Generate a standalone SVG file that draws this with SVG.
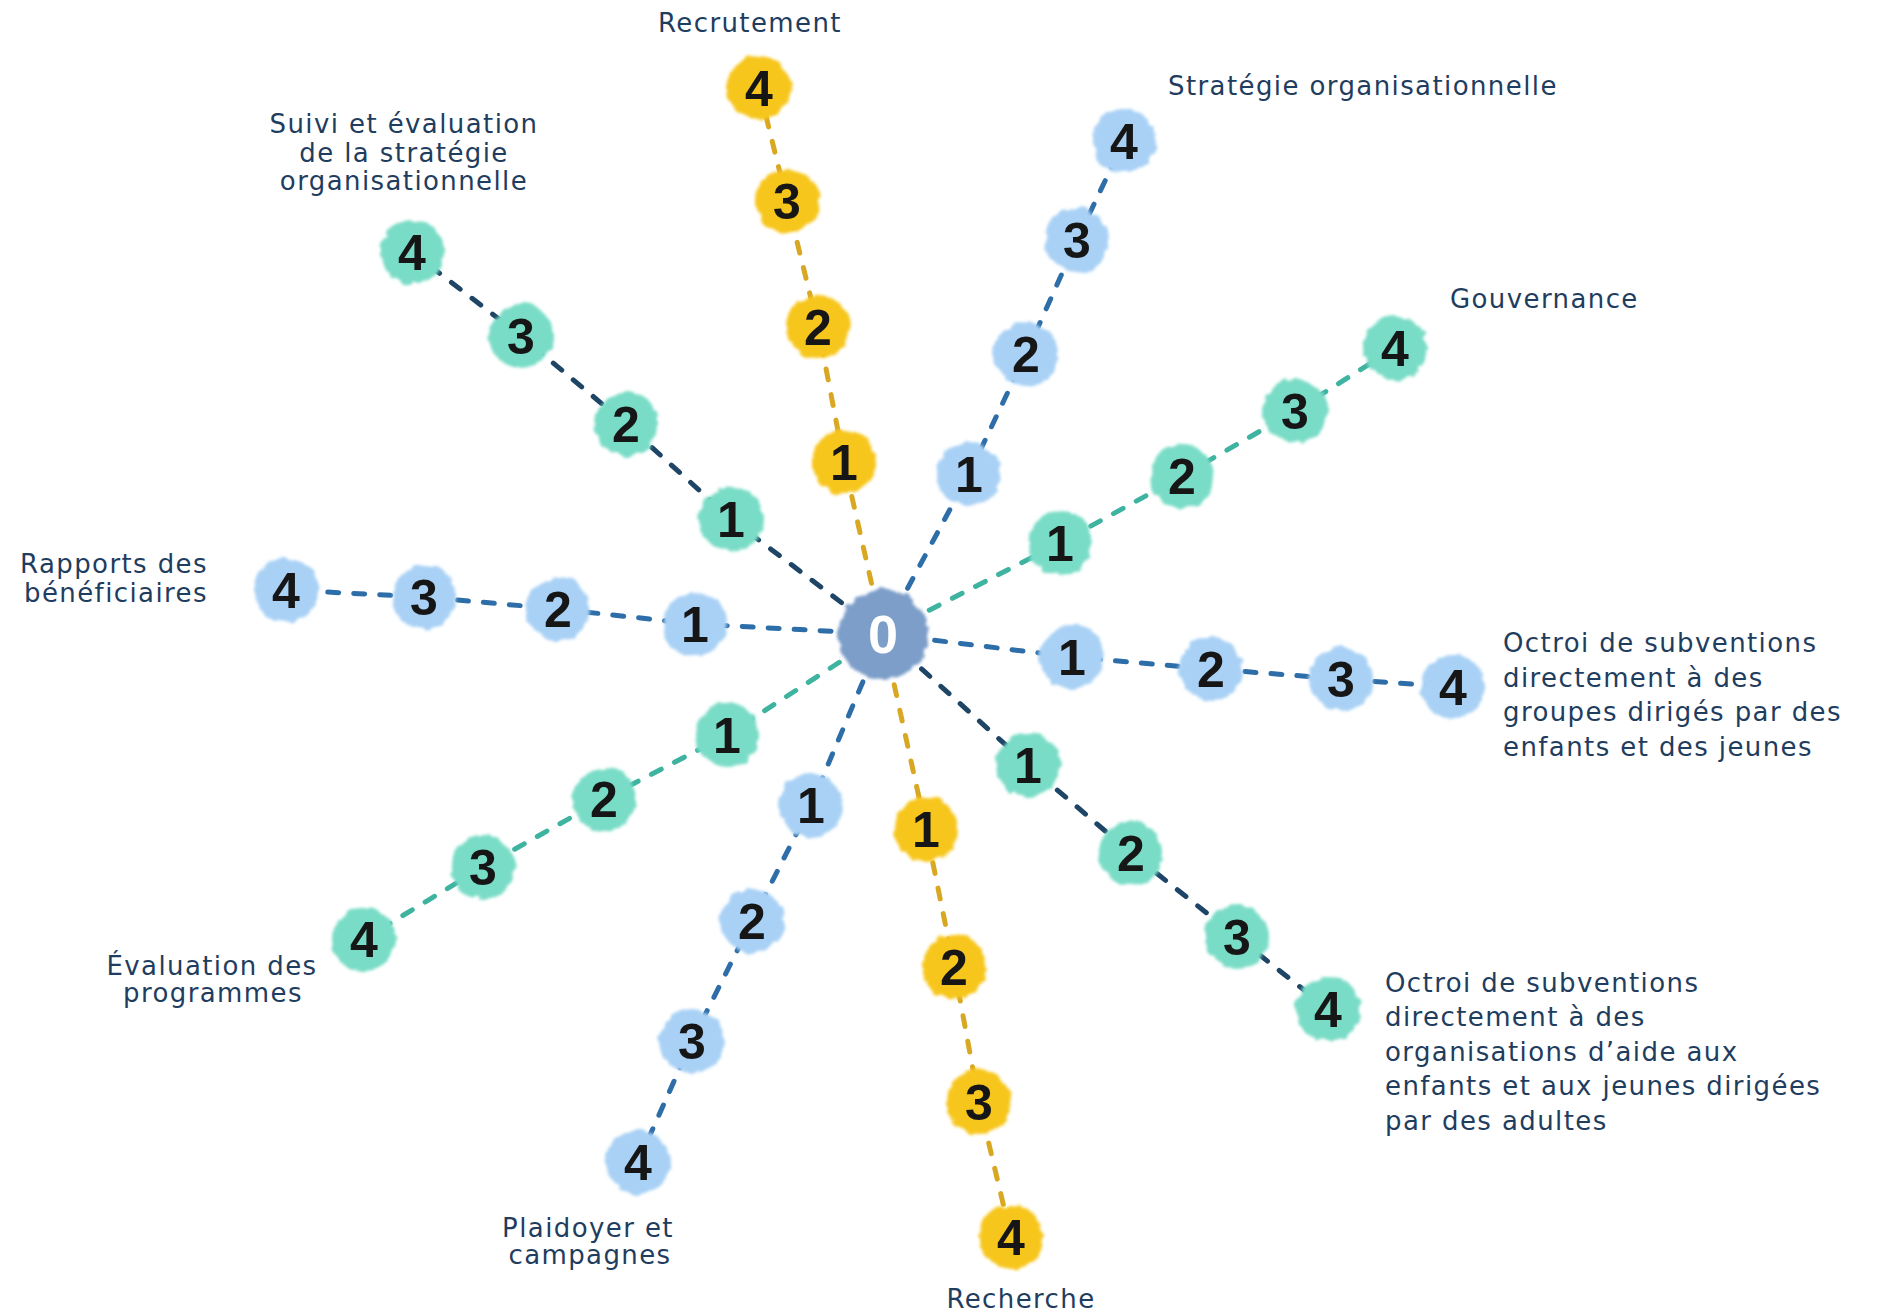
<svg xmlns="http://www.w3.org/2000/svg" width="1883" height="1312" viewBox="0 0 1883 1312">
<defs>
<filter id="wc" x="-30%" y="-30%" width="160%" height="160%">
<feTurbulence type="fractalNoise" baseFrequency="0.09" numOctaves="2" seed="4" result="n"/>
<feDisplacementMap in="SourceGraphic" in2="n" scale="8" xChannelSelector="R" yChannelSelector="G" result="d"/>
<feGaussianBlur in="d" stdDeviation="1.6"/>
</filter>
<style>
.lbl{font-family:"DejaVu Sans","Liberation Sans",sans-serif;font-size:26px;fill:#1f3d5e;letter-spacing:1.4px}
.mid{text-anchor:middle}
.num{font-family:"Liberation Sans","DejaVu Sans",sans-serif;font-weight:bold;font-size:50px;fill:#161616;text-anchor:middle}
.zero{font-family:"Liberation Sans","DejaVu Sans",sans-serif;font-weight:bold;font-size:54px;fill:#ffffff;text-anchor:middle}
.sp{fill:none;stroke-width:5;stroke-dasharray:11 15;stroke-linecap:round;stroke-linejoin:round}
.gold{stroke:#d9a822}
.blue{stroke:#2e6ea8}
.teal{stroke:#3eb3a0}
.navy{stroke:#1e4566}
.y{fill:#f7c61c;filter:url(#wc)}
.b{fill:#a9d1f5;filter:url(#wc)}
.t{fill:#79dcc6;filter:url(#wc)}
.c{fill:#7b9ec9;filter:url(#wc)}
</style>
</defs>
<rect width="1883" height="1312" fill="#ffffff"/>

<g id="connectors">
<polyline class="sp gold" points="883,634 844,462 818,327 787,201 759,88"/>
<polyline class="sp blue" points="883,634 969,474 1026,354 1077,240 1124,141"/>
<polyline class="sp teal" points="883,634 1060,543 1182,476 1295,411 1395,348"/>
<polyline class="sp blue" points="883,634 1072,657 1211,669 1341,679 1453,687"/>
<polyline class="sp navy" points="883,634 1028,765 1131,853 1237,937 1328,1009"/>
<polyline class="sp gold" points="883,634 926,829 954,967 979,1102 1011,1237"/>
<polyline class="sp blue" points="883,634 811,805 752,921 692,1041 638,1162"/>
<polyline class="sp teal" points="883,634 727,735 604,799 483,867 364,939"/>
<polyline class="sp blue" points="883,634 695,624 558,609 424,597 286,590"/>
<polyline class="sp navy" points="883,634 731,519 626,424 521,336 412,252"/>
</g>

<g id="center"><circle class="c" cx="883" cy="634" r="45"/><text class="zero" x="883" y="653">0</text></g>

<g id="recrutement">
<circle class="y" cx="844" cy="462" r="32"/><text class="num" x="844" y="480">1</text>
<circle class="y" cx="818" cy="327" r="32"/><text class="num" x="818" y="345">2</text>
<circle class="y" cx="787" cy="201" r="32"/><text class="num" x="787" y="219">3</text>
<circle class="y" cx="759" cy="88" r="32"/><text class="num" x="759" y="106">4</text>
<text class="lbl mid" x="750" y="32">Recrutement</text>
</g>

<g id="strategie">
<circle class="b" cx="969" cy="474" r="32"/><text class="num" x="969" y="492">1</text>
<circle class="b" cx="1026" cy="354" r="32"/><text class="num" x="1026" y="372">2</text>
<circle class="b" cx="1077" cy="240" r="32"/><text class="num" x="1077" y="258">3</text>
<circle class="b" cx="1124" cy="141" r="32"/><text class="num" x="1124" y="159">4</text>
<text class="lbl" x="1168" y="95">Stratégie organisationnelle</text>
</g>

<g id="gouvernance">
<circle class="t" cx="1060" cy="543" r="32"/><text class="num" x="1060" y="561">1</text>
<circle class="t" cx="1182" cy="476" r="32"/><text class="num" x="1182" y="494">2</text>
<circle class="t" cx="1295" cy="411" r="32"/><text class="num" x="1295" y="429">3</text>
<circle class="t" cx="1395" cy="348" r="32"/><text class="num" x="1395" y="366">4</text>
<text class="lbl" x="1450" y="308">Gouvernance</text>
</g>

<g id="octroi-groupes">
<circle class="b" cx="1072" cy="657" r="32"/><text class="num" x="1072" y="675">1</text>
<circle class="b" cx="1211" cy="669" r="32"/><text class="num" x="1211" y="687">2</text>
<circle class="b" cx="1341" cy="679" r="32"/><text class="num" x="1341" y="697">3</text>
<circle class="b" cx="1453" cy="687" r="32"/><text class="num" x="1453" y="705">4</text>
<text class="lbl" x="1503" y="652">Octroi de subventions</text>
<text class="lbl" x="1503" y="687">directement à des</text>
<text class="lbl" x="1503" y="721">groupes dirigés par des</text>
<text class="lbl" x="1503" y="756">enfants et des jeunes</text>
</g>

<g id="octroi-organisations">
<circle class="t" cx="1028" cy="765" r="32"/><text class="num" x="1028" y="783">1</text>
<circle class="t" cx="1131" cy="853" r="32"/><text class="num" x="1131" y="871">2</text>
<circle class="t" cx="1237" cy="937" r="32"/><text class="num" x="1237" y="955">3</text>
<circle class="t" cx="1328" cy="1009" r="32"/><text class="num" x="1328" y="1027">4</text>
<text class="lbl" x="1385" y="992">Octroi de subventions</text>
<text class="lbl" x="1385" y="1026">directement à des</text>
<text class="lbl" x="1385" y="1061">organisations d’aide aux</text>
<text class="lbl" x="1385" y="1095">enfants et aux jeunes dirigées</text>
<text class="lbl" x="1385" y="1130">par des adultes</text>
</g>

<g id="recherche">
<circle class="y" cx="926" cy="829" r="32"/><text class="num" x="926" y="847">1</text>
<circle class="y" cx="954" cy="967" r="32"/><text class="num" x="954" y="985">2</text>
<circle class="y" cx="979" cy="1102" r="32"/><text class="num" x="979" y="1120">3</text>
<circle class="y" cx="1011" cy="1237" r="32"/><text class="num" x="1011" y="1255">4</text>
<text class="lbl mid" x="1021" y="1308">Recherche</text>
</g>

<g id="plaidoyer">
<circle class="b" cx="811" cy="805" r="32"/><text class="num" x="811" y="823">1</text>
<circle class="b" cx="752" cy="921" r="32"/><text class="num" x="752" y="939">2</text>
<circle class="b" cx="692" cy="1041" r="32"/><text class="num" x="692" y="1059">3</text>
<circle class="b" cx="638" cy="1162" r="32"/><text class="num" x="638" y="1180">4</text>
<text class="lbl mid" x="588" y="1237">Plaidoyer et</text>
<text class="lbl mid" x="590" y="1264">campagnes</text>
</g>

<g id="evaluation-programmes">
<circle class="t" cx="727" cy="735" r="32"/><text class="num" x="727" y="753">1</text>
<circle class="t" cx="604" cy="799" r="32"/><text class="num" x="604" y="817">2</text>
<circle class="t" cx="483" cy="867" r="32"/><text class="num" x="483" y="885">3</text>
<circle class="t" cx="364" cy="939" r="32"/><text class="num" x="364" y="957">4</text>
<text class="lbl mid" x="212" y="975">Évaluation des</text>
<text class="lbl mid" x="213" y="1002">programmes</text>
</g>

<g id="rapports">
<circle class="b" cx="695" cy="624" r="32"/><text class="num" x="695" y="642">1</text>
<circle class="b" cx="558" cy="609" r="32"/><text class="num" x="558" y="627">2</text>
<circle class="b" cx="424" cy="597" r="32"/><text class="num" x="424" y="615">3</text>
<circle class="b" cx="286" cy="590" r="32"/><text class="num" x="286" y="608">4</text>
<text class="lbl mid" x="114" y="573">Rapports des</text>
<text class="lbl mid" x="116" y="602">bénéficiaires</text>
</g>

<g id="suivi">
<circle class="t" cx="731" cy="519" r="32"/><text class="num" x="731" y="537">1</text>
<circle class="t" cx="626" cy="424" r="32"/><text class="num" x="626" y="442">2</text>
<circle class="t" cx="521" cy="336" r="32"/><text class="num" x="521" y="354">3</text>
<circle class="t" cx="412" cy="252" r="32"/><text class="num" x="412" y="270">4</text>
<text class="lbl mid" x="404" y="133">Suivi et évaluation</text>
<text class="lbl mid" x="404" y="162">de la stratégie</text>
<text class="lbl mid" x="404" y="190">organisationnelle</text>
</g>
</svg>
